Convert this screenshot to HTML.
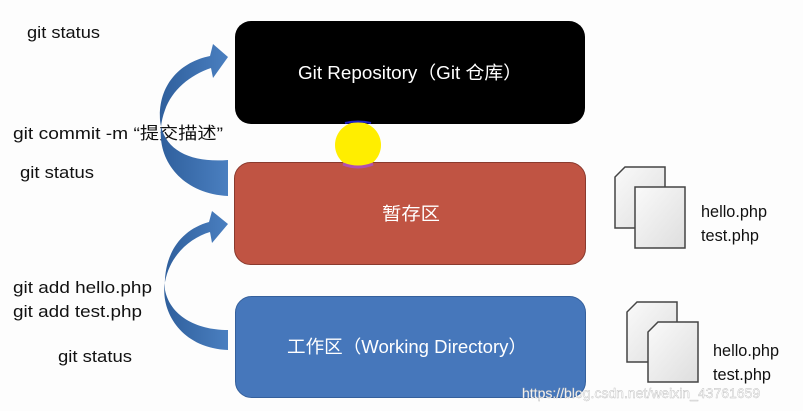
<!DOCTYPE html>
<html><head><meta charset="utf-8"><style>
body{margin:0;background:#fff;}
svg{display:block}
.t{font-family:"Liberation Sans","Noto Sans CJK SC",sans-serif;font-size:17px;fill:#111}
.w{font-family:"Liberation Sans","Noto Sans CJK SC",sans-serif;font-size:18px;fill:#fff}
</style></head><body>
<svg width="803" height="411" viewBox="0 0 803 411" xmlns="http://www.w3.org/2000/svg">
<defs>
<linearGradient id="ar" x1="0" y1="0" x2="1" y2="0">
<stop offset="0" stop-color="#2f5f9c"/><stop offset="1" stop-color="#4a7fc0"/></linearGradient>
<linearGradient id="doc" x1="0" y1="0" x2="1" y2="1">
<stop offset="0" stop-color="#fafafa"/><stop offset="1" stop-color="#dedede"/></linearGradient>
</defs>
<rect width="803" height="411" fill="#fdfdfd"/>
<text class="t" x="27" y="38" textLength="73" lengthAdjust="spacingAndGlyphs">git status</text>
<text class="t" x="13" y="139" textLength="210" lengthAdjust="spacingAndGlyphs">git commit -m “提交描述”</text>
<text class="t" x="20" y="178" textLength="74" lengthAdjust="spacingAndGlyphs">git status</text>
<text class="t" x="13" y="293" textLength="139" lengthAdjust="spacingAndGlyphs">git add hello.php</text>
<text class="t" x="13" y="317" textLength="129" lengthAdjust="spacingAndGlyphs">git add test.php</text>
<text class="t" x="58" y="362" textLength="74" lengthAdjust="spacingAndGlyphs">git status</text>

<rect x="235" y="21" width="350" height="103" rx="16" fill="#000"/>
<text class="w" x="298" y="79" textLength="224" lengthAdjust="spacingAndGlyphs">Git Repository（Git 仓库）</text>
<rect x="234.5" y="162.5" width="351" height="102" rx="16" fill="#c05443" stroke="#8a3a2e"/>
<text class="w" x="382" y="220" textLength="58" lengthAdjust="spacingAndGlyphs">暂存区</text>
<rect x="235.5" y="296.5" width="350" height="101" rx="16" fill="#4677bb" stroke="#35609c"/>
<text class="w" x="287" y="353" textLength="240" lengthAdjust="spacingAndGlyphs">工作区（Working Directory）</text>

<circle cx="358" cy="145" r="23" fill="#ffee00"/>
<path d="M345 123 Q358 120 371 123" stroke="#2222cc" stroke-width="2" fill="none"/>
<path d="M343 164 Q358 170 373 164" stroke="#b050b0" stroke-width="3" fill="none"/>

<path d="M228 196 C175 193 150 150 165 110 C172 90 190 75 211 68 L213 78 L228 57 L213 44 L210 56 C180 62 158 85 160 120 C163 150 190 163 228 160 Z" fill="url(#ar)"/>
<path d="M228 350 C180 348 160 310 165 282 C170 255 190 238 210 232 L212 243 L228 224 L212 211 L209 222 C180 230 163 255 165 290 C170 315 195 330 228 330 Z" fill="url(#ar)"/>

<g stroke="#444" stroke-width="1.5" fill="url(#doc)">
<path d="M625 167 H665 V228 H615 V177 Z"/><path d="M635 187 H685 V248 H635 V197 Z" />
<path d="M637 302 H677 V362 H627 V312 Z"/><path d="M658 322 H698 V382 H648 V332 Z"/>
</g>
<text class="t" x="701" y="217" textLength="66" lengthAdjust="spacingAndGlyphs">hello.php</text>
<text class="t" x="701" y="241" textLength="58" lengthAdjust="spacingAndGlyphs">test.php</text>
<text class="t" x="713" y="356" textLength="66" lengthAdjust="spacingAndGlyphs">hello.php</text>
<text class="t" x="713" y="380" textLength="58" lengthAdjust="spacingAndGlyphs">test.php</text>
<text x="522" y="398" style="font-family:'Liberation Sans',sans-serif;font-size:14px;fill:#fff;stroke:#bbb;stroke-width:0.4" >https://blog.csdn.net/weixin_43761659</text>
</svg>
</body></html>
